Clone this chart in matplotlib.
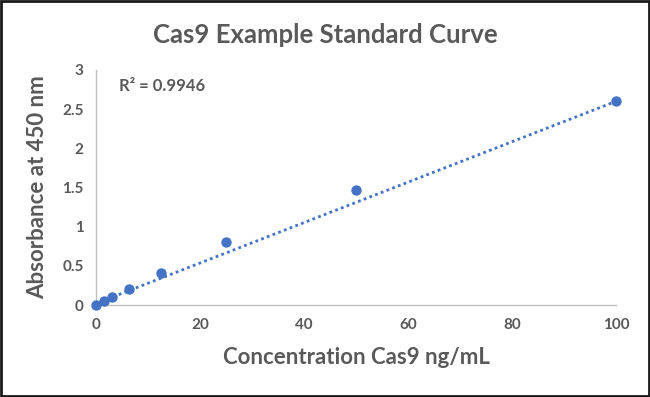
import matplotlib
matplotlib.use("Agg")
import matplotlib.pyplot as plt
import numpy as np

# ── Data ───────────────────────────────────────────────────────────
concentration = [0, 1.5625, 3.125, 6.25, 12.5, 25, 50, 100]
absorbance    = [0.0, 0.05, 0.10, 0.20, 0.41, 0.80, 1.47, 2.60]
r_squared     = 0.9946
# linear trendline (y = slope * x + intercept)
trend_slope     = 0.0258
trend_intercept = 0.02

x_ticks = [0, 20, 40, 60, 80, 100]
y_ticks = [0, 0.5, 1, 1.5, 2, 2.5, 3]
y_tick_labels = ["0", "0.5", "1", "1.5", "2", "2.5", "3"]

BLUE = "#4472C4"
GREY = "#595959"
AXIS = "#BFBFBF"

plt.rcParams["font.family"] = ["Lato", "DejaVu Sans"]

fig = plt.figure(figsize=(6.5, 3.97), dpi=100, facecolor="white")
ax = fig.add_axes([0.1477, 0.2317, 0.8, 0.592])

ax.scatter(concentration, absorbance, s=42, color=BLUE, zorder=3, clip_on=False)

# trendline over the data range
xs = np.array([concentration[0], concentration[-1]])
ax.plot(xs, trend_slope * xs + trend_intercept, linestyle=(0, (1, 1.2)),
        color=BLUE, linewidth=2, zorder=2)

ax.set_xlim(0, 100)
ax.set_ylim(0, 3)
ax.set_xticks(x_ticks)
ax.set_yticks(y_ticks)
ax.set_yticklabels(y_tick_labels)
ax.tick_params(length=0, labelsize=11, colors=GREY, pad=9)
for lab in ax.get_xticklabels() + ax.get_yticklabels():
    lab.set_fontweight("bold")

for side in ["top", "right"]:
    ax.spines[side].set_visible(False)
for side in ["left", "bottom"]:
    ax.spines[side].set_color(AXIS)
    ax.spines[side].set_linewidth(1)

ax.set_xlabel("Concentration Cas9 ng/mL", fontsize=16, fontweight="bold",
              color=GREY, labelpad=11)
ax.set_ylabel("Absorbance at 450 nm", fontsize=16, fontweight="bold",
              color=GREY, labelpad=10)

ax.text(0.045, 0.93, f"R² = {r_squared}", transform=ax.transAxes,
        fontsize=12, color=GREY, fontweight="bold", va="center")

fig.text(0.5, 0.912, "Cas9 Example Standard Curve", ha="center", va="center",
         fontsize=18.5, fontweight="bold", color=GREY)

# outer frame
fig.patches.append(plt.Rectangle((0.002, 0.003), 0.996, 0.994, transform=fig.transFigure,
                                 fill=False, edgecolor="#1a1a1a", linewidth=2))

fig.savefig("out.png", dpi=100, facecolor="white")
